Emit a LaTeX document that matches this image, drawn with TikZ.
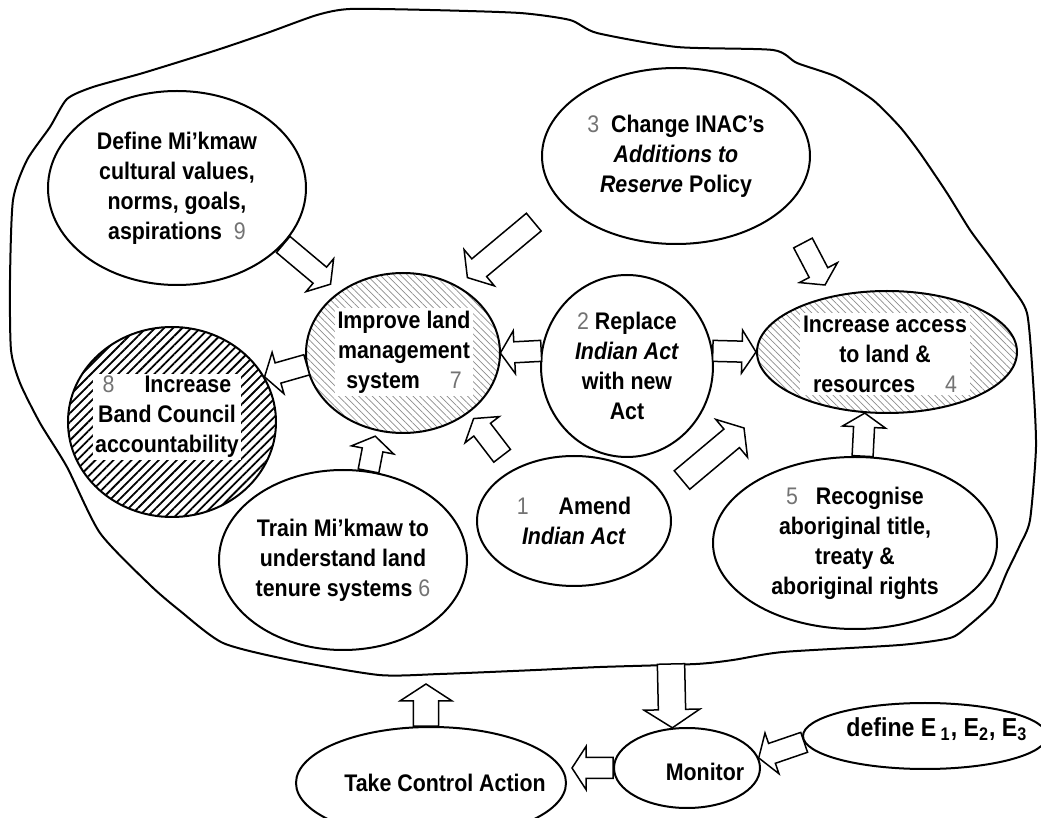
\documentclass[tikz,border=0pt]{standalone}
\usepackage{fontspec}
\setmainfont{Liberation Sans}[FakeStretch=0.89]
\usetikzlibrary{shapes.geometric,patterns.meta,calc}

\newcommand{\nr}[1]{{\mdseries\color{black!55}#1}}
% hollow block arrow from #2 to #3, #1 = size
\newcommand{\barrow}[3][1]{%
  \path[draw,fill=white,line width=0.75pt,line join=miter]
    let \p1=(#2), \p2=(#3),
        \n1={atan2(\y2-\y1,\x2-\x1)}, \n2={veclen(\x2-\x1,\y2-\y1)} in
    [shift={(\p1)},rotate=\n1]
    (0pt,-#1*5.25pt) -- ({\n2-#1*7pt},-#1*5.25pt) -- ({\n2-#1*7pt},-#1*10.75pt)
    -- (\n2,0pt) -- ({\n2-#1*7pt},#1*10.75pt) -- ({\n2-#1*7pt},#1*5.25pt)
    -- (0pt,#1*5.25pt) -- cycle;}

\begin{document}
\begin{tikzpicture}[x=0.5pt,y=-0.5pt,
    bubble/.style={ellipse,draw,line width=1pt,inner sep=0pt,align=center,
      font=\fontsize{12}{15}\selectfont\bfseries},
    txt/.style={align=center,inner sep=1.5pt,font=\fontsize{12}{15}\selectfont\bfseries},
    wbox/.style={txt,fill=white},
    light/.style={pattern={Lines[angle=-45,distance=2.4pt,line width=0.35pt]},pattern color=black!45},
    dense/.style={pattern={Lines[angle=45,distance=3.2pt,line width=0.9pt]},pattern color=black}]
  \useasboundingbox (0,0) rectangle (1041,818);
  \clip (0,0) rectangle (1041,818);
  %%% the system boundary
  \draw[line width=1pt] plot[smooth cycle,tension=0.4] coordinates {
    (27,160) (50,127) (67,99) (93,87) (143,73) (217,50) (267,33) (317,15) (350,9)
    (430,10) (520,13) (570,20) (597,33) (677,47) (773,50) (797,63) (837,77) (873,100)
    (900,127) (920,153) (947,193) (970,230) (990,257) (1010,285) (1027,313) (1033,380)
    (1036,447) (1030,520) (1020,545) (1007,572) (993,603) (967,627) (950,638) (900,645)
    (783,652) (733,660) (696,664) (600,667) (536,670) (440,674) (379,675) (290,660)
    (223,643) (179,610) (150,585) (100,533) (67,467) (40,423) (20,383) (11,350)
    (10,280) (13,200)};
  %%% bubbles
  \node[bubble,minimum width=129pt,minimum height=97pt] (define) at (177,188)
    {Define Mi’kmaw\\cultural values,\\norms, goals,\\aspirations \ \nr{9}};
  \node[bubble,minimum width=134pt,minimum height=88pt] (inac) at (676,156)
    {\nr{3} \ Change INAC’s\\\textit{Additions to}\\\textit{Reserve} Policy};
  \node[bubble,light,minimum width=97pt,minimum height=80pt] (improve) at (403,353) {};
  \node[wbox] (improve-t) at (404,352) {Improve land\\management\\system \quad \nr{7}};
  \node[bubble,minimum width=86pt,minimum height=91pt] (replace) at (627,366)
    {\nr{2} Replace\\\textit{Indian Act}\\with new\\Act};
  \node[bubble,light,minimum width=130pt,minimum height=61pt] (access) at (887,352) {};
  \node[wbox] (access-t) at (885,354) {Increase access\\to land \&\\resources \quad \nr{4}};
  \node[bubble,dense,minimum width=104pt,minimum height=95pt] (council) at (172,422) {};
  \node[wbox,inner sep=1pt] (council-t) at (167,417) {\nr{8} \quad Increase\\Band Council\\accountability};
  \node[bubble,minimum width=97pt,minimum height=65pt] (amend) at (574,521)
    {\nr{1} \quad Amend\\\textit{Indian Act}};
  \node[bubble,minimum width=124pt,minimum height=90pt] (train) at (343,560)
    {Train Mi’kmaw to\\understand land\\tenure systems \nr{6}};
  \node[bubble,minimum width=142pt,minimum height=86pt] (recog) at (855,543)
    {\nr{5} \ \ Recognise\\aboriginal title,\\treaty \&\\aboriginal rights};
  \node[bubble,minimum width=73pt,minimum height=40pt] (monitor) at (687,768) {};
  \node[txt] (monitor-t) at (705,772) {Monitor};
  \node[bubble,minimum width=135pt,minimum height=56pt] (tca) at (431,783) {};
  \node[txt] (tca-t) at (445,783) {Take Control Action};
  \node[bubble,minimum width=122pt,minimum height=33pt] (defe) at (925,736) {};
  \node[txt,anchor=west,font=\fontsize{13}{15}\selectfont\bfseries] (defe-t) at (843,729)
    {define E\,\textsubscript{1}, E\textsubscript{2}, E\textsubscript{3}};
  %%% loose arrow ends
  \coordinate (c3a) at (803,243);
  \coordinate (c3b) at (825,285);
  \coordinate (c1a) at (682,480);
  \coordinate (c1b) at (744,428);
  \coordinate (rim1) at (671,664);
  \coordinate (rim2) at (426,684);
  %%% arrows
  \barrow{define.-28}{$(improve.136)!6pt!(define.-28)$}
  \barrow[1.1]{$(inac.201)!0.25!(improve.51)$}{$(inac.201)!0.9!(improve.51)$}
  \barrow{c3a}{c3b}
  \barrow{improve.187}{council.26}
  \barrow{replace.170}{improve.east}
  \barrow{replace.10}{access.west}
  \barrow{train.74}{$(improve.-109)!3pt!(train.74)$}
  \barrow{$(amend.140)!0.24!(improve.-42)$}{$(amend.140)!0.89!(improve.-42)$}
  \barrow[1.15]{c1a}{c1b}
  \barrow{recog.85}{access.-110}
  \barrow[1.3]{rim1}{monitor.110}
  \barrow[1.2]{tca.95}{rim2}
  \barrow{defe.183}{monitor.8}
  \barrow{monitor.west}{$(monitor.west -| tca.east)+(5,0)$}
\end{tikzpicture}
\end{document}
